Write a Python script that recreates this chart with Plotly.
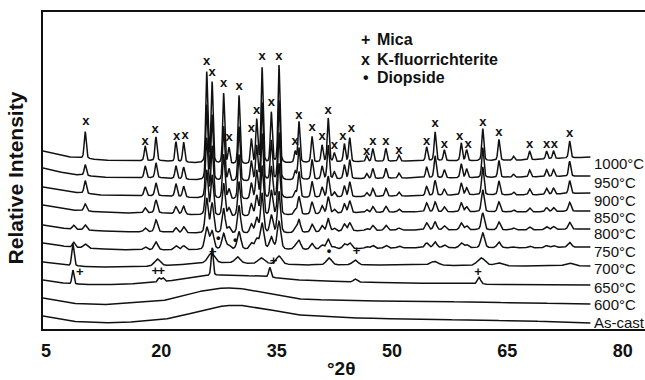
import numpy as np
import plotly.graph_objects as go

# ---------------- data ----------------
series_names = ["1000°C", "950°C", "900°C", "850°C", "800°C",
                "750°C", "700°C", "650°C", "600°C", "As-cast"]

# background (stacked, relative intensity units) at these 2theta anchors
bg_2theta = [4.6, 8, 12, 16, 20, 22, 24, 26, 28, 30, 32, 35, 38, 45, 52, 60, 68, 75.8]
bg_levels = {
    "1000°C": [178, 172, 169, 168, 168, 167, 166, 165, 164, 164, 164, 165, 166, 167, 168, 168, 169, 172],
    "950°C":  [161, 155, 152, 151, 151, 150, 149, 148, 147, 147, 147, 148, 149, 150, 151, 151, 152, 153],
    "900°C":  [142, 137, 134, 133, 133, 132, 131, 130, 129, 129, 129, 130, 131, 132, 133, 134, 134, 136],
    "850°C":  [124, 119, 117, 116, 116, 115, 114, 113, 112, 112, 112, 113, 114, 116, 117, 117, 117, 118],
    "800°C":  [104, 100, 98, 97, 97, 96, 96, 95, 95, 95, 95, 95, 96, 98, 99, 99, 99, 100],
    "750°C":  [86, 82, 80, 79, 79, 79, 79, 79, 79, 79, 79, 79, 79, 80, 81, 81, 81, 82],
    "700°C":  [67, 63, 62, 62, 63, 64, 65, 66, 66, 66, 65, 65, 64, 64, 64, 63, 63, 63],
    "650°C":  [49, 45, 44, 45, 47, 49, 51, 53, 54, 54, 53, 51, 49, 47, 46, 45, 44, 44],
    "600°C":  [31, 26, 24, 26, 28, 32, 36, 39, 41, 41, 38, 34, 30, 28, 28, 27, 26, 25],
    "As-cast": [13, 8, 6, 7, 9, 12, 16, 20, 23, 24, 22, 18, 14, 11, 10, 9, 8, 6],
}

# K-fluorrichterite reflections (2theta) and their heights per pattern
kfr_2theta = [10.1, 17.9, 19.3, 21.9, 22.9, 25.9, 26.6, 28.1, 28.8, 30.1,
              31.7, 32.4, 33.1, 34.3, 35.3, 37.4, 37.9, 39.6, 40.9, 41.7,
              42.5, 43.8, 44.5, 46.7, 47.5, 49.2, 50.9, 54.5, 55.6, 56.8,
              59.0, 59.7, 61.8, 63.9, 65.8, 67.9, 70.1, 71.0, 73.1]
kfr_heights = {
    "1000°C": [27, 15, 24, 20, 20, 91, 81, 71, 16, 69, 25, 44, 96, 51, 98, 11, 41, 26, 17, 44,
               9, 18, 24, 6, 13, 13, 6, 14, 29, 11, 18, 11, 32, 21, 4, 9, 8, 8, 17],
    "950°C":  [11, 12, 15, 13, 12, 75, 65, 55, 12, 55, 20, 35, 78, 40, 80, 8, 32, 20, 13, 34,
               7, 14, 19, 5, 10, 10, 5, 11, 22, 8, 14, 9, 30, 17, 3, 7, 7, 7, 15],
    "900°C":  [13, 9, 13, 13, 11, 60, 52, 45, 10, 45, 16, 28, 65, 32, 66, 6, 26, 16, 10, 21,
               5, 11, 15, 4, 8, 8, 4, 9, 15, 6, 12, 7, 28, 14, 3, 6, 6, 6, 13],
    "850°C":  [7, 5, 13, 7, 8, 45, 40, 33, 8, 35, 12, 20, 50, 25, 52, 5, 18, 12, 8, 17,
               4, 9, 12, 3, 6, 6, 3, 9, 10, 5, 9, 5, 22, 10, 2, 4, 4, 4, 9],
    "800°C":  [5, 4, 12, 5, 6, 35, 30, 25, 6, 28, 9, 15, 40, 18, 42, 4, 13, 8, 6, 13,
               3, 7, 8, 2, 5, 5, 2, 7, 8, 4, 7, 4, 17, 8, 2, 3, 3, 3, 7],
    "750°C":  [4, 3, 8, 4, 4, 22, 18, 16, 4, 18, 6, 10, 26, 12, 28, 3, 9, 6, 4, 10,
               2, 5, 6, 2, 3, 3, 2, 5, 6, 3, 5, 3, 15, 6, 1, 2, 2, 2, 5],
}
kfr_fwhm = {"1000°C": 0.30, "950°C": 0.32, "900°C": 0.35,
            "850°C": 0.40, "800°C": 0.45, "750°C": 0.55}

# other reflections (2theta, height, fwhm)
extra_peaks = {
    "800°C": [(8.6, 4, 0.4)],
    "750°C": [(8.6, 5, 0.4)],
    "700°C": [(8.5, 22, 0.35), (19.5, 7, 0.9), (26.5, 10, 1.0), (29.9, 6, 0.8),
              (33.0, 6, 1.0), (35.3, 8, 0.8), (41.8, 7, 0.8), (45.2, 5, 0.8),
              (55.5, 4, 1.2), (61.6, 8, 1.2), (63.8, 3, 1.2), (73.0, 3, 1.2)],
    "650°C": [(8.5, 14, 0.3), (19.7, 4, 0.4), (20.2, 4, 0.4), (26.6, 28, 0.3),
              (34.1, 10, 0.35), (45.2, 3, 0.5), (61.3, 7, 0.5)],
}

label_levels = [166, 147, 129, 112, 96, 78, 61, 42, 25, 7]

kfr_mark_2theta = [10.2, 17.9, 19.2, 22.0, 23.1, 25.9, 26.6, 28.1, 28.8, 30.1,
                   31.7, 32.4, 33.1, 34.3, 35.3, 37.4, 37.9, 39.6, 40.9, 41.7,
                   42.5, 43.6, 44.7, 46.7, 47.5, 49.2, 50.9, 54.5, 55.6, 56.8,
                   58.8, 59.9, 61.8, 63.9, 67.9, 70.1, 71.1, 73.1]
kfr_mark_level = [207, 187, 199, 192, 193, 267, 256, 245, 191, 242,
                  200, 218, 272, 226, 272, 187, 213, 201, 192, 218,
                  183, 192, 200, 177, 187, 187, 178, 187, 205, 184,
                  192, 184, 206, 196, 184, 184, 184, 195]
mica_mark_2theta = [9.4, 19.2, 20.0, 26.7, 34.6, 45.4, 61.2]
mica_mark_level = [56, 57, 57, 76, 67, 77, 56]
diop_mark_2theta = [27.4, 29.6, 41.8]
diop_mark_level = [90, 88, 77]

legend_symbols = ["+", "x", "•"]
legend_texts = ["Mica", "K-fluorrichterite", "Diopside"]
legend_levels = [290, 270, 252]

# ---------------- figure ----------------
FONT = "Liberation Sans, Arial, Helvetica, sans-serif"
INK = "#111111"
grid = np.linspace(4.6, 75.8, 3561)


def profile(x, pos, h, w, eta=0.35):
    g = np.exp(-4 * np.log(2) * ((x - pos) / w) ** 2)
    lor = 1.0 / (1.0 + 4 * ((x - pos) / w) ** 2)
    return h * (eta * lor + (1 - eta) * g)


fig = go.Figure()
for name in series_names:
    y = np.interp(grid, bg_2theta, bg_levels[name])
    if name in kfr_heights:
        for p, h in zip(kfr_2theta, kfr_heights[name]):
            y = y + profile(grid, p, h, kfr_fwhm[name])
    for p, h, w in extra_peaks.get(name, []):
        y = y + profile(grid, p, h, w)
    fig.add_trace(go.Scatter(x=grid, y=y, mode="lines",
                             line=dict(color=INK, width=1.5),
                             showlegend=False, hoverinfo="skip"))

mark_font = dict(family=FONT, size=13, color=INK, weight="bold")
for xs, ys, sym in [(kfr_mark_2theta, kfr_mark_level, "x"),
                    (mica_mark_2theta, mica_mark_level, "+"),
                    (diop_mark_2theta, diop_mark_level, "•")]:
    fig.add_trace(go.Scatter(x=xs, y=ys, mode="text", text=[sym] * len(xs),
                             textfont=mark_font, showlegend=False, hoverinfo="skip"))

# series labels
for name, lv in zip(series_names, label_levels):
    fig.add_annotation(x=76.0, y=lv, xref="x", yref="y", text=name, showarrow=False,
                       xanchor="left", yanchor="middle",
                       font=dict(family=FONT, size=15, color=INK))

# legend (text block)
for sym, txt, lv in zip(legend_symbols, legend_texts, legend_levels):
    fig.add_annotation(x=46.6, y=lv, xref="x", yref="y", text=sym, showarrow=False,
                       xanchor="center", yanchor="middle",
                       font=dict(family=FONT, size=16, color=INK, weight="bold"))
    fig.add_annotation(x=47.8, y=lv, xref="x", yref="y", text=txt, showarrow=False,
                       xanchor="left", yanchor="middle",
                       font=dict(family=FONT, size=16, color=INK, weight="bold"))

# axis titles
fig.add_annotation(x=-0.045, y=0.478, xref="paper", yref="paper", text="Relative Intensity",
                   textangle=-90, showarrow=False, xanchor="center", yanchor="middle",
                   font=dict(family=FONT, size=21, color=INK, weight="bold"))
fig.add_annotation(x=0.495, y=-0.126, xref="paper", yref="paper", text="°2θ",
                   showarrow=False, xanchor="center", yanchor="middle",
                   font=dict(family=FONT, size=19, color=INK, weight="bold"))

fig.update_layout(
    width=645, height=380,
    margin=dict(l=43, r=0, t=12, b=51),
    paper_bgcolor="white", plot_bgcolor="white",
    xaxis=dict(range=[4.61, 82.9], tickvals=[5, 20, 35, 50, 65, 80],
               ticktext=["5", "20", "35", "50", "65", "80"],
               showgrid=False, zeroline=False, showline=True, mirror=True,
               linecolor=INK, linewidth=2, ticks="outside", ticklen=4,
               tickcolor="white",
               tickfont=dict(family=FONT, size=18, color=INK, weight="bold")),
    yaxis=dict(range=[0, 317], showgrid=False, zeroline=False, showline=True,
               linecolor=INK, linewidth=2, showticklabels=False, ticks=""),
)

fig.write_html("out.html")
